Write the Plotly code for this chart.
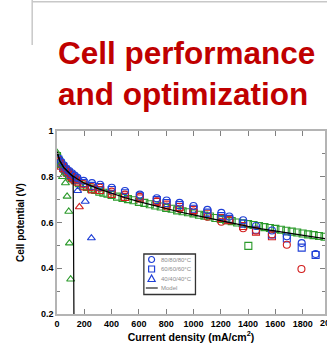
import plotly.graph_objects as go

# ---- data -------------------------------------------------------------
# Model curves (mA/cm^2, V)
model_x = [0, 20, 50, 100, 150, 200, 300, 400, 500, 600, 700, 800, 900, 1000,
           1100, 1200, 1300, 1400, 1500, 1600, 1700, 1800, 1900, 2000]
model_y = [0.91, 0.87, 0.84, 0.81, 0.79, 0.772, 0.748, 0.727, 0.708, 0.691, 0.675,
           0.660, 0.646, 0.633, 0.620, 0.607, 0.595, 0.583, 0.572, 0.562, 0.552,
           0.543, 0.535, 0.527]
model40_x = [0, 20, 50, 100, 118, 121, 124]
model40_y = [0.91, 0.87, 0.84, 0.81, 0.80, 0.55, 0.20]

# Green squares (dense sweep)
gsq_x = [0, 15, 30, 50, 70, 90, 110, 130, 160, 190, 220, 250, 280, 310, 340, 370,
         400, 440, 480, 520, 560, 600, 640, 680, 720, 760, 800, 840, 880, 920,
         960, 1000, 1040, 1080, 1120, 1160, 1200, 1240, 1280, 1320, 1360, 1400,
         1440, 1480, 1520, 1560, 1600, 1640, 1680, 1720, 1760, 1800, 1840, 1880,
         1920, 1960, 2000]
gsq_y = [0.89, 0.87, 0.855, 0.835, 0.82, 0.805, 0.795, 0.785, 0.772, 0.762, 0.755,
         0.748, 0.742, 0.735, 0.73, 0.726, 0.72, 0.713, 0.707, 0.702, 0.697, 0.69,
         0.686, 0.68, 0.674, 0.67, 0.664, 0.66, 0.653, 0.649, 0.645, 0.64, 0.634,
         0.63, 0.626, 0.62, 0.615, 0.61, 0.606, 0.6, 0.597, 0.593, 0.589, 0.585,
         0.58, 0.576, 0.572, 0.568, 0.564, 0.56, 0.556, 0.552, 0.548, 0.545,
         0.541, 0.538, 0.535]
gsq_out_x = [1402]
gsq_out_y = [0.498]

# Triangles
gtri_x = [0, 20, 40, 62, 74, 86, 91, 100]
gtri_y = [0.905, 0.85, 0.80, 0.773, 0.714, 0.648, 0.51, 0.352]
btri_x = [151, 207, 252]
btri_y = [0.739, 0.692, 0.532]
rtri_x = [164]
rtri_y = [0.668]

# Circles
bci_x = [10, 30, 50, 70, 90, 110, 130, 150, 195, 256, 316, 401, 498, 607, 731,
         803, 898, 1000, 1102, 1204, 1262, 1364, 1458, 1575, 1684, 1793, 1895]
bci_y = [0.88, 0.865, 0.85, 0.835, 0.825, 0.815, 0.805, 0.795, 0.782, 0.772,
         0.765, 0.752, 0.738, 0.722, 0.706, 0.696, 0.686, 0.672, 0.655, 0.642,
         0.626, 0.61, 0.585, 0.565, 0.54, 0.51, 0.462]
rci_x = [20, 40, 60, 80, 100, 120, 140, 195, 256, 316, 401, 498, 607, 731, 803,
         898, 1000, 1102, 1204, 1262, 1364, 1458, 1575, 1684, 1791]
rci_y = [0.865, 0.85, 0.835, 0.822, 0.81, 0.8, 0.79, 0.768, 0.755, 0.752, 0.735,
         0.722, 0.712, 0.693, 0.67, 0.66, 0.648, 0.625, 0.603, 0.61, 0.575,
         0.565, 0.548, 0.503, 0.397]

# Squares
bsq_x = [10, 25, 45, 65, 85, 105, 125, 145, 195, 256, 316, 401, 498, 607, 731,
         803, 898, 1000, 1102, 1204, 1262, 1364, 1458, 1575, 1684, 1793, 1895]
bsq_y = [0.875, 0.86, 0.845, 0.83, 0.818, 0.808, 0.798, 0.788, 0.772, 0.76,
         0.755, 0.742, 0.728, 0.715, 0.698, 0.685, 0.676, 0.66, 0.643, 0.628,
         0.616, 0.595, 0.568, 0.548, 0.53, 0.49, 0.458]
rsq_x = [5, 15, 30, 45, 60, 75, 90, 105, 120, 135, 150, 195, 256, 316, 401, 498,
         607, 731, 803, 898, 1000, 1102, 1204, 1262, 1364, 1458, 1575]
rsq_y = [0.87, 0.86, 0.848, 0.838, 0.828, 0.818, 0.81, 0.8, 0.792, 0.785, 0.778,
         0.758, 0.745, 0.742, 0.725, 0.712, 0.705, 0.69, 0.678, 0.668, 0.655,
         0.638, 0.62, 0.61, 0.585, 0.56, 0.54]

x_ticks = [0, 200, 400, 600, 800, 1000, 1200, 1400, 1600, 1800]
x_last_tick = 2000
y_ticks = [0.2, 0.4, 0.6, 0.8, 1.0]
y_ticktext = ["0.2", "0.4", "0.6", "0.8", "1"]
legend_labels = ["80/80/80°C", "60/60/60°C", "40/40/40°C", "Model"]

# ---- styling ------------------------------------------------------------
BLUE = "#1f3fd6"
RED = "#d21e1e"
GREEN = "#2b9a2b"
W, H = 327, 352
L, R, T, B = 57, 327, 131, 314
X_PER_PX = 200 / 27.5
X_MAX = (R - L) * X_PER_PX


def px(x):
    return (x - L) / (R - L)


def py(y):
    return (B - y) / (B - T)


def marker(symbol, color, size=7):
    return dict(symbol=symbol, size=size, color=color, line=dict(color=color, width=1.1))


fig = go.Figure()
fig.add_trace(go.Scatter(x=gsq_x, y=gsq_y, mode="markers", marker=marker("square-open", GREEN)))
fig.add_trace(go.Scatter(x=gsq_out_x, y=gsq_out_y, mode="markers", marker=marker("square-open", GREEN)))
fig.add_trace(go.Scatter(x=rsq_x, y=rsq_y, mode="markers", marker=marker("square-open", RED)))
fig.add_trace(go.Scatter(x=bsq_x, y=bsq_y, mode="markers", marker=marker("square-open", BLUE)))
fig.add_trace(go.Scatter(x=rci_x, y=rci_y, mode="markers", marker=marker("circle-open", RED)))
fig.add_trace(go.Scatter(x=bci_x, y=bci_y, mode="markers", marker=marker("circle-open", BLUE)))
fig.add_trace(go.Scatter(x=gtri_x, y=gtri_y, mode="markers", marker=marker("triangle-up-open", GREEN)))
fig.add_trace(go.Scatter(x=btri_x, y=btri_y, mode="markers", marker=marker("triangle-up-open", BLUE)))
fig.add_trace(go.Scatter(x=rtri_x, y=rtri_y, mode="markers", marker=marker("triangle-up-open", RED)))
fig.add_trace(go.Scatter(x=model_x, y=model_y, mode="lines", line=dict(color="black", width=1.2)))
fig.add_trace(go.Scatter(x=model40_x, y=model40_y, mode="lines", line=dict(color="black", width=1.2)))

tickfont = dict(family="Liberation Sans, Arial", size=9, color="black", weight="bold")
axis_common = dict(showline=True, linecolor="#b4b4b4", linewidth=1.5, mirror="ticks",
                   ticks="inside", ticklen=5, tickcolor="#808080", tickwidth=1,
                   showgrid=False, zeroline=False, tickfont=tickfont)

fig.update_layout(
    width=W, height=H, showlegend=False,
    margin=dict(l=L, r=W - R, t=T, b=H - B, pad=0),
    paper_bgcolor="white", plot_bgcolor="white",
    xaxis=dict(range=[0, X_MAX], tickvals=x_ticks,
               title=dict(text="Current density (mA/cm<sup>2</sup>)", standoff=6,
                          font=dict(family="Liberation Sans, Arial", size=10.5,
                                    color="black", weight="bold")),
               **axis_common),
    yaxis=dict(range=[0.2, 1.0], tickvals=y_ticks, ticktext=y_ticktext,
               minor=dict(dtick=0.1, ticks="inside", ticklen=3, tickcolor="#808080"),
               title=dict(text="Cell potential (V)", standoff=14,
                          font=dict(family="Liberation Sans, Arial", size=10,
                                    color="black", weight="bold")),
               **axis_common),
)

# last x tick label sits just past the right edge of the plot area
fig.add_annotation(text=str(x_last_tick), xref="paper", yref="paper",
                   x=x_last_tick / X_MAX, y=py(314 + 2), xanchor="center", yanchor="top",
                   showarrow=False, font=tickfont)

# slide heading
title_font = dict(family="Liberation Sans, Arial", size=31.5, color="#c00000", weight="bold")
for text, yc in [("Cell performance", 53.2), ("and optimization", 94.2)]:
    fig.add_annotation(text=text, xref="paper", yref="paper", x=px(55.5), y=py(yc),
                       xanchor="left", yanchor="middle", showarrow=False, font=title_font)

# slide frame corner
frame = dict(color="#c8c8c8", width=1.5)
fig.add_shape(type="line", xref="paper", yref="paper", x0=px(32), x1=px(32),
              y0=py(0), y1=py(45), line=frame)
fig.add_shape(type="line", xref="paper", yref="paper", x0=px(32), x1=px(330),
              y0=py(1.7), y1=py(1.7), line=frame)

# legend box with glyphs
fig.add_shape(type="rect", xref="paper", yref="paper", x0=px(144.5), x1=px(196.5),
              y0=py(294.5), y1=py(254), line=dict(color="#333333", width=1.3),
              fillcolor="white")
gx, r = 152.3, 3.0
rows = [259.5, 269.0, 278.5, 288.0]
fig.add_shape(type="circle", xref="paper", yref="paper", x0=px(gx - r), x1=px(gx + r),
              y0=py(rows[0] + r), y1=py(rows[0] - r), line=dict(color=BLUE, width=1.2))
fig.add_shape(type="rect", xref="paper", yref="paper", x0=px(gx - r), x1=px(gx + r),
              y0=py(rows[1] + r), y1=py(rows[1] - r), line=dict(color=BLUE, width=1.2))
tri = "M {} {} L {} {} L {} {} Z".format(px(gx - 3.6), py(rows[2] + 3), px(gx + 3.6),
                                         py(rows[2] + 3), px(gx), py(rows[2] - 3.5))
fig.add_shape(type="path", xref="paper", yref="paper", path=tri, line=dict(color=BLUE, width=1.2))
fig.add_shape(type="line", xref="paper", yref="paper", x0=px(146.5), x1=px(158.5),
              y0=py(rows[3]), y1=py(rows[3]), line=dict(color="#222222", width=1.2))
for lab, yy in zip(legend_labels, rows):
    fig.add_annotation(text=lab, xref="paper", yref="paper", x=px(160), y=py(yy),
                       xanchor="left", yanchor="middle", showarrow=False,
                       font=dict(family="Liberation Sans, Arial", size=6, color="#8c8c8c"))

fig.write_html("out.html")
